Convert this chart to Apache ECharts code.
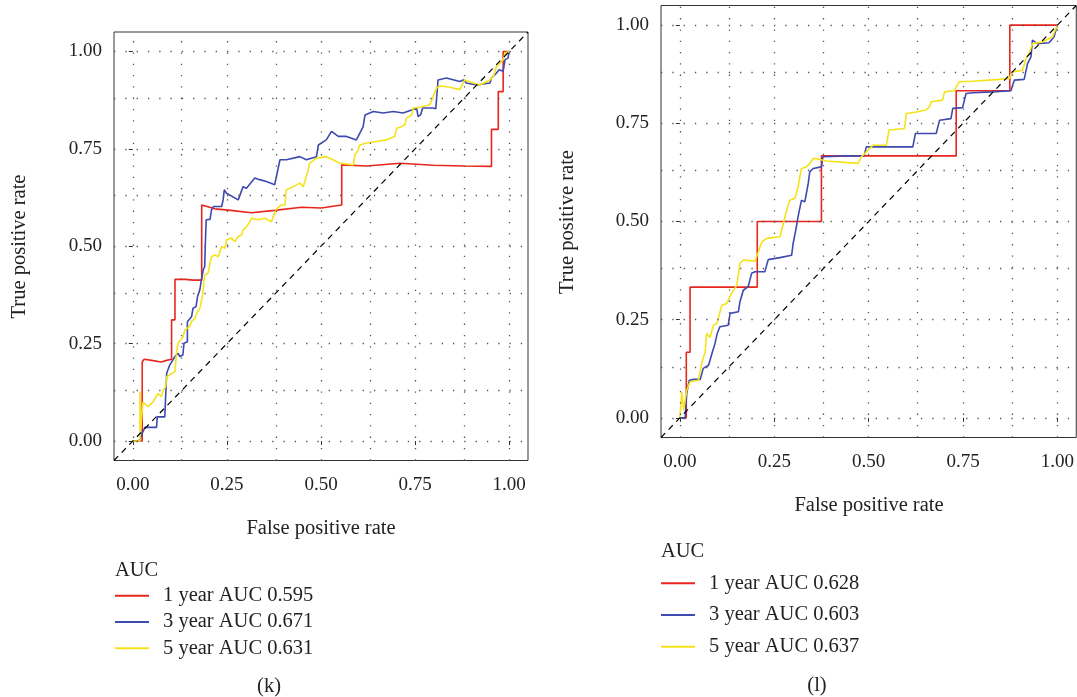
<!DOCTYPE html>
<html>
<head>
<meta charset="utf-8">
<script src="https://cdn.jsdelivr.net/npm/echarts@6/dist/echarts.min.js"></script>
<style>
  html, body { margin: 0; padding: 0; background: #fff; }
  #chart { width: 1077px; height: 697px; }
</style>
</head>
<body>
<div id="chart"></div>
<script>
// ---------- DATA ----------
const tickValues = [0, 0.25, 0.5, 0.75, 1];
const gridValues = [0, 0.125, 0.25, 0.375, 0.5, 0.625, 0.75, 0.875, 1];

const namesK = ['1 year AUC 0.595', '3 year AUC 0.671', '5 year AUC 0.631'];
const namesL = ['1 year AUC 0.628', '3 year AUC 0.603', '5 year AUC 0.637'];

// panel (k): [false positive rate, true positive rate]
const k1Year = [[0,0],[0.025,0],[0.025,0.203],[0.03,0.21],[0.05,0.207],[0.075,0.203],[0.09,0.207],[0.103,0.21],[0.103,0.311],[0.112,0.311],[0.112,0.415],[0.14,0.415],[0.16,0.413],[0.183,0.413],[0.183,0.606],[0.218,0.596],[0.26,0.592],[0.315,0.586],[0.377,0.592],[0.448,0.6],[0.5,0.598],[0.555,0.606],[0.555,0.709],[0.621,0.706],[0.71,0.713],[0.798,0.708],[0.88,0.706],[0.953,0.705],[0.953,0.8],[0.971,0.8],[0.971,0.897],[0.984,0.897],[0.984,1],[1,1]];
const k3Year = [[0,0],[0.014,0],[0.02,0.005],[0.023,0.015],[0.032,0.035],[0.063,0.035],[0.065,0.062],[0.085,0.062],[0.087,0.11],[0.09,0.174],[0.098,0.195],[0.112,0.217],[0.12,0.225],[0.125,0.217],[0.133,0.221],[0.136,0.251],[0.145,0.255],[0.145,0.306],[0.156,0.319],[0.16,0.341],[0.168,0.345],[0.172,0.371],[0.178,0.388],[0.183,0.418],[0.187,0.439],[0.191,0.448],[0.193,0.516],[0.195,0.568],[0.205,0.569],[0.209,0.593],[0.214,0.602],[0.236,0.602],[0.24,0.619],[0.243,0.645],[0.249,0.636],[0.28,0.619],[0.293,0.653],[0.302,0.649],[0.324,0.675],[0.337,0.671],[0.355,0.666],[0.377,0.658],[0.391,0.722],[0.408,0.722],[0.444,0.73],[0.461,0.722],[0.488,0.73],[0.493,0.76],[0.514,0.773],[0.528,0.795],[0.546,0.782],[0.568,0.782],[0.594,0.773],[0.612,0.807],[0.617,0.837],[0.639,0.846],[0.665,0.842],[0.692,0.846],[0.718,0.842],[0.741,0.85],[0.754,0.855],[0.758,0.833],[0.765,0.838],[0.77,0.855],[0.798,0.855],[0.805,0.853],[0.811,0.927],[0.833,0.932],[0.869,0.923],[0.878,0.927],[0.886,0.919],[0.913,0.914],[0.949,0.919],[0.953,0.932],[0.966,0.944],[0.973,0.953],[0.984,0.949],[0.989,0.979],[0.997,0.983],[1,1]];
const k5Year = [[0,0],[0.019,0],[0.019,0.127],[0.021,0.03],[0.023,0.054],[0.027,0.1],[0.032,0.097],[0.041,0.088],[0.054,0.101],[0.067,0.122],[0.076,0.114],[0.081,0.131],[0.087,0.139],[0.09,0.165],[0.098,0.17],[0.112,0.178],[0.116,0.225],[0.12,0.251],[0.134,0.268],[0.138,0.285],[0.151,0.294],[0.156,0.307],[0.165,0.315],[0.17,0.328],[0.178,0.341],[0.183,0.362],[0.187,0.388],[0.191,0.426],[0.2,0.431],[0.205,0.456],[0.209,0.473],[0.218,0.478],[0.227,0.473],[0.231,0.486],[0.236,0.499],[0.245,0.495],[0.249,0.516],[0.262,0.521],[0.271,0.512],[0.28,0.525],[0.289,0.529],[0.293,0.542],[0.302,0.55],[0.311,0.563],[0.315,0.572],[0.333,0.568],[0.351,0.572],[0.368,0.563],[0.377,0.585],[0.384,0.598],[0.395,0.606],[0.404,0.606],[0.408,0.645],[0.426,0.653],[0.444,0.662],[0.453,0.653],[0.457,0.666],[0.466,0.696],[0.47,0.713],[0.488,0.726],[0.514,0.73],[0.532,0.722],[0.55,0.713],[0.586,0.709],[0.59,0.735],[0.599,0.747],[0.603,0.76],[0.621,0.765],[0.647,0.769],[0.674,0.773],[0.696,0.782],[0.701,0.803],[0.714,0.807],[0.723,0.812],[0.727,0.829],[0.741,0.837],[0.745,0.855],[0.763,0.857],[0.789,0.863],[0.798,0.884],[0.807,0.906],[0.816,0.912],[0.842,0.908],[0.869,0.902],[0.882,0.927],[0.905,0.919],[0.922,0.914],[0.949,0.927],[0.958,0.936],[0.966,0.961],[0.975,0.97],[0.984,0.979],[0.989,0.996],[1,1]];

// panel (l)
const l1Year = [[0,0],[0.017,0],[0.017,0.167],[0.027,0.167],[0.027,0.333],[0.205,0.333],[0.205,0.5],[0.375,0.5],[0.375,0.667],[0.732,0.667],[0.732,0.833],[0.874,0.833],[0.874,1],[1,1]];
const l3Year = [[0,0],[0.014,0],[0.018,0.062],[0.025,0.096],[0.036,0.098],[0.054,0.098],[0.062,0.126],[0.076,0.134],[0.085,0.164],[0.093,0.189],[0.099,0.215],[0.106,0.232],[0.128,0.236],[0.133,0.266],[0.155,0.27],[0.159,0.295],[0.168,0.325],[0.181,0.334],[0.19,0.368],[0.199,0.372],[0.225,0.372],[0.234,0.403],[0.265,0.408],[0.296,0.414],[0.3,0.444],[0.307,0.478],[0.313,0.512],[0.322,0.554],[0.331,0.55],[0.34,0.597],[0.344,0.626],[0.353,0.635],[0.375,0.639],[0.379,0.665],[0.44,0.667],[0.488,0.667],[0.494,0.69],[0.617,0.69],[0.624,0.724],[0.679,0.724],[0.688,0.758],[0.718,0.762],[0.723,0.788],[0.749,0.79],[0.758,0.826],[0.776,0.828],[0.828,0.83],[0.877,0.833],[0.886,0.86],[0.912,0.862],[0.921,0.902],[0.93,0.919],[0.934,0.962],[0.947,0.953],[0.978,0.955],[0.991,0.97],[1,1]];
const l5Year = [[0,0],[0.005,0.066],[0.01,0.02],[0.018,0.07],[0.027,0.092],[0.049,0.096],[0.058,0.139],[0.067,0.168],[0.071,0.215],[0.08,0.205],[0.089,0.236],[0.098,0.24],[0.111,0.287],[0.124,0.291],[0.137,0.317],[0.151,0.338],[0.159,0.393],[0.168,0.402],[0.199,0.399],[0.208,0.423],[0.217,0.448],[0.23,0.457],[0.265,0.461],[0.274,0.495],[0.283,0.529],[0.291,0.554],[0.305,0.559],[0.313,0.588],[0.318,0.588],[0.322,0.635],[0.335,0.639],[0.344,0.648],[0.353,0.66],[0.362,0.66],[0.388,0.654],[0.472,0.648],[0.481,0.665],[0.511,0.694],[0.547,0.694],[0.554,0.733],[0.595,0.737],[0.6,0.775],[0.626,0.779],[0.652,0.784],[0.661,0.792],[0.666,0.805],[0.696,0.809],[0.701,0.83],[0.727,0.833],[0.74,0.856],[0.776,0.857],[0.846,0.862],[0.872,0.864],[0.881,0.881],[0.908,0.885],[0.917,0.915],[0.925,0.928],[0.934,0.953],[0.96,0.957],[0.987,0.97],[1,1]];

const diagonal = [[-0.05,-0.05],[1.05,1.05]];

// ---------- STYLE ----------
const FONT = 'Liberation Serif';
const FS = 20.5;      // titles, legend
const FS_TICK = 19;   // tick labels
const colors = ['#E8261E', '#3E4AB0', '#F5E31A'];

function axisCfg(gridIndex, isX) {
  return {
    gridIndex, type: 'value', min: -0.05, max: 1.05,
    axisLine: { show: false },
    axisTick: { show: true, length: 4, customValues: tickValues, lineStyle: { color: '#333', width: 1 } },
    axisLabel: { customValues: tickValues, formatter: v => v.toFixed(2), fontFamily: FONT, fontSize: FS_TICK, color: '#222', margin: isX ? 15 : 12 },
    splitLine: { show: false }
  };
}

function gridLineSeries(gi) {
  const ml = [];
  gridValues.forEach(v => { ml.push({ xAxis: v }); ml.push({ yAxis: v }); });
  return {
    type: 'line', xAxisIndex: gi, yAxisIndex: gi, data: [], silent: true, z: 1,
    markLine: { silent: true, symbol: ['none', 'none'], label: { show: false },
      lineStyle: { color: '#555', width: 1.3, type: [1.3, 10] }, data: ml, animation: false }
  };
}

function curve(gi, name, data, color) {
  return { type: 'line', name, xAxisIndex: gi, yAxisIndex: gi, data, showSymbol: false, symbol: 'none',
    lineStyle: { color, width: 1.6 }, itemStyle: { color }, z: 3, animation: false };
}

function diag(gi) {
  return { type: 'line', xAxisIndex: gi, yAxisIndex: gi, data: diagonal, showSymbol: false, symbol: 'none',
    lineStyle: { color: '#000', width: 1.2, type: [6, 5] }, silent: true, z: 4, animation: false };
}

function txt(text, x, y, opts) {
  return Object.assign({ type: 'text', x, y, style: { text, font: FS + 'px "' + FONT + '"', fill: '#222', textAlign: 'center', textVerticalAlign: 'middle' } }, opts || {});
}

const legendCommon = {
  orient: 'vertical', icon: 'rect', itemWidth: 34, itemHeight: 2, padding: 0,
  textStyle: { fontFamily: FONT, fontSize: FS, color: '#222', lineHeight: 22, padding: [0, 0, 0, 9] },
  selectedMode: false
};

const option = {
  animation: false,
  backgroundColor: '#fff',
  grid: [
    { left: 114, top: 32, width: 414, height: 428.5, show: true, borderColor: '#333', borderWidth: 1, backgroundColor: 'transparent' },
    { left: 661, top: 5.5, width: 416, height: 432, show: true, borderColor: '#333', borderWidth: 1, backgroundColor: 'transparent' }
  ],
  xAxis: [axisCfg(0, true), axisCfg(1, true)],
  yAxis: [axisCfg(0, false), axisCfg(1, false)],
  legend: [
    Object.assign({}, legendCommon, { left: 115, top: 584.7, itemGap: 4.3, data: namesK }),
    Object.assign({}, legendCommon, { left: 661, top: 572.3, itemGap: 9.7, data: namesL })
  ],
  series: [
    gridLineSeries(0),
    curve(0, namesK[0], k1Year, colors[0]),
    curve(0, namesK[1], k3Year, colors[1]),
    curve(0, namesK[2], k5Year, colors[2]),
    diag(0),
    gridLineSeries(1),
    curve(1, namesL[0], l1Year, colors[0]),
    curve(1, namesL[1], l3Year, colors[1]),
    curve(1, namesL[2], l5Year, colors[2]),
    diag(1)
  ],
  graphic: [
    txt('True positive rate', 20, 246.5, { rotation: Math.PI / 2 }),
    txt('False positive rate', 321, 529),
    txt('True positive rate', 568, 222, { rotation: Math.PI / 2 }),
    txt('False positive rate', 869, 506),
    { type: 'text', x: 115, y: 571, style: { text: 'AUC', font: FS + 'px "' + FONT + '"', fill: '#222', textAlign: 'left', textVerticalAlign: 'middle' } },
    { type: 'text', x: 661, y: 552, style: { text: 'AUC', font: FS + 'px "' + FONT + '"', fill: '#222', textAlign: 'left', textVerticalAlign: 'middle' } },
    txt('(k)', 269, 687),
    txt('(l)', 817, 686)
  ]
};

const chart = echarts.init(document.getElementById('chart'), null, { renderer: 'canvas' });
chart.setOption(option);
</script>
</body>
</html>
